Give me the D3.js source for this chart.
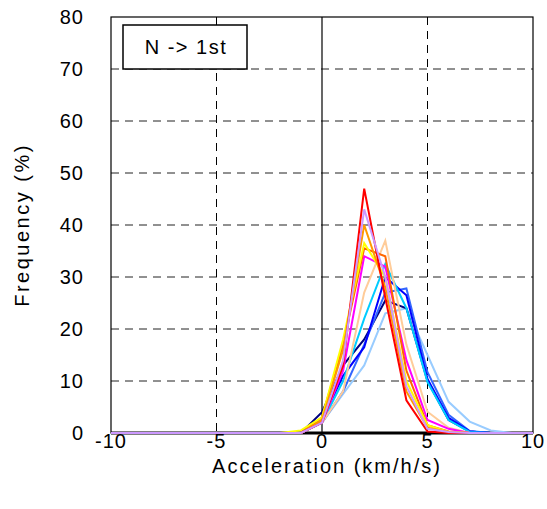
<!DOCTYPE html>
<html>
<head>
<meta charset="utf-8">
<script src="https://cdn.jsdelivr.net/npm/d3@7"></script>
<style>
  body { margin: 0; background: #fff; }
  text { font-family: "Liberation Sans", Arial, sans-serif; }
</style>
</head>
<body>
<svg id="chart" width="547" height="509"></svg>
<script>
// acceleration bins, -10 .. 10 km/h/s
const accel = d3.range(-10, 11);
const xTicks = [-10, -5, 0, 5, 10];
const yTicks = [0, 10, 20, 30, 40, 50, 60, 70, 80];

// frequency (%) per bin, one array per curve, indices follow accel
const zeros = (n) => new Array(n).fill(0);
const lightBlue  = [...zeros(10), 2, 7.5, 13, 23, 24, 15, 6, 2.2, 0.5, 0, 0];
const navy       = [...zeros(10), 4, 13, 18, 25.5, 24, 10, 2.5, 0.3, 0, 0, 0];
const royalBlue  = [...zeros(10), 2, 8, 17, 27, 27.8, 11.7, 3.5, 0.4, 0, 0, 0];
const blue       = [...zeros(10), 2.5, 11, 16.5, 30, 26.5, 10.4, 2.9, 0.3, 0, 0, 0];
const cyan       = [...zeros(10), 2, 10, 22, 32.5, 24, 9.8, 2.5, 0.2, 0, 0, 0];
const peach      = [...zeros(10), 2, 8, 27, 37, 17, 4.1, 1, 0, 0, 0, 0];
const magenta    = [...zeros(10), 2, 12, 34, 32, 14, 2.5, 0.8, 0, 0, 0, 0];
const darkOrange = [...zeros(10), 3, 17, 35.5, 34, 12, 1.5, 0.3, 0, 0, 0, 0];
const yellow     = [...zeros(9), 0.5, 3, 18, 36.5, 30, 10, 1.5, 0.2, 0, 0, 0, 0];
const orange     = [...zeros(10), 2.5, 16, 40, 28, 8, 1, 0.2, 0, 0, 0, 0];
const red        = [...zeros(10), 2, 13, 47, 26, 6.3, 0.3, 0, 0, 0, 0, 0];
const lavender   = [...zeros(10), 2, 14, 43, 30, 9, 0.8, 0.2, 0, 0, 0, 0];

const series = [
  { color: "#99ccff", values: lightBlue },
  { color: "#000080", values: navy },
  { color: "#3366ff", values: royalBlue },
  { color: "#0000ff", values: blue },
  { color: "#00ccff", values: cyan },
  { color: "#ffcc99", values: peach },
  { color: "#ff00ff", values: magenta },
  { color: "#ff6600", values: darkOrange },
  { color: "#ffff00", values: yellow },
  { color: "#ff9900", values: orange },
  { color: "#ff0000", values: red },
  { color: "#cc99ff", values: lavender }
];

const svg = d3.select("#chart");
const plotL = 111, plotR = 533, plotT = 17, plotB = 433;

const x = d3.scaleLinear().domain([-10, 10]).range([plotL, plotR]);
const y = d3.scaleLinear().domain([0, 80]).range([plotB, plotT]);

// grid
svg.append("g").selectAll("line")
  .data(yTicks.slice(1, -1))
  .join("line")
  .attr("x1", plotL).attr("x2", plotR)
  .attr("y1", d => y(d)).attr("y2", d => y(d))
  .attr("stroke", "#222").attr("stroke-width", 1)
  .attr("stroke-dasharray", "8,6");

svg.append("g").selectAll("line")
  .data(xTicks.slice(1, -1))
  .join("line")
  .attr("x1", d => x(d)).attr("x2", d => x(d))
  .attr("y1", plotT).attr("y2", plotB)
  .attr("stroke", "#000").attr("stroke-width", d => d === 0 ? 1.2 : 1)
  .attr("stroke-dasharray", d => d === 0 ? null : "8,6");

// frame
svg.append("rect")
  .attr("x", plotL).attr("y", plotT)
  .attr("width", plotR - plotL).attr("height", plotB - plotT)
  .attr("fill", "none").attr("stroke", "#000").attr("stroke-width", 1.2);

svg.append("line")
  .attr("x1", plotL).attr("x2", plotR)
  .attr("y1", plotB).attr("y2", plotB)
  .attr("stroke", "#000").attr("stroke-width", 3);

// curves
const line = d3.line()
  .x((d, i) => x(accel[i]))
  .y(d => y(d));

svg.append("g").selectAll("path")
  .data(series)
  .join("path")
  .attr("d", d => line(d.values))
  .attr("fill", "none")
  .attr("stroke", d => d.color)
  .attr("stroke-width", 2)
  .attr("stroke-linejoin", "miter");

// axes labels
svg.append("g").selectAll("text")
  .data(yTicks)
  .join("text")
  .attr("x", 84).attr("y", d => y(d))
  .attr("dy", "0.35em")
  .attr("text-anchor", "end")
  .attr("font-size", 20)
  .attr("letter-spacing", 1)
  .text(d => d);

svg.append("g").selectAll("text")
  .data(xTicks)
  .join("text")
  .attr("x", d => x(d)).attr("y", 441)
  .attr("dy", "0.35em")
  .attr("text-anchor", "middle")
  .attr("font-size", 20)
  .attr("letter-spacing", 1)
  .text(d => d);

svg.append("text")
  .attr("x", 327).attr("y", 473)
  .attr("text-anchor", "middle")
  .attr("font-size", 20)
  .attr("letter-spacing", 2)
  .text("Acceleration (km/h/s)");

svg.append("text")
  .attr("transform", `translate(29,225) rotate(-90)`)
  .attr("text-anchor", "middle")
  .attr("font-size", 20)
  .attr("letter-spacing", 2.5)
  .text("Frequency (%)");

// legend box
svg.append("rect")
  .attr("x", 123).attr("y", 25)
  .attr("width", 124).attr("height", 44)
  .attr("fill", "#fff").attr("stroke", "#000").attr("stroke-width", 1.5);

svg.append("text")
  .attr("x", 186).attr("y", 47)
  .attr("dy", "0.35em")
  .attr("text-anchor", "middle")
  .attr("font-size", 20)
  .attr("letter-spacing", 1.5)
  .text("N -> 1st");
</script>
</body>
</html>
